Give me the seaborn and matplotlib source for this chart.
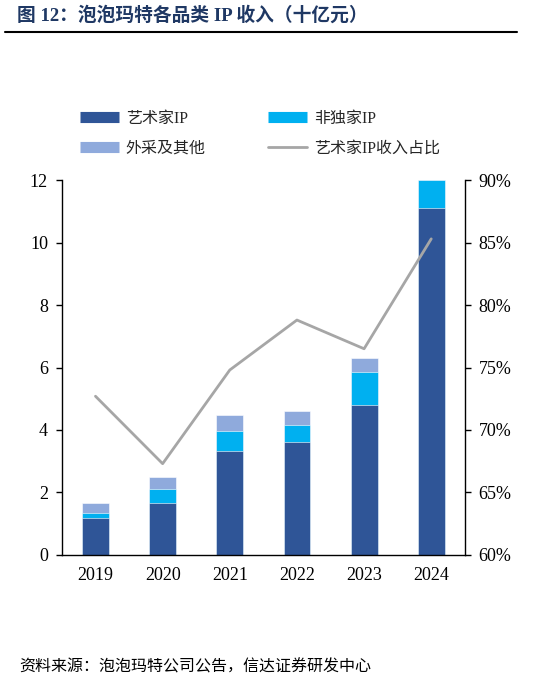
import matplotlib
matplotlib.use("Agg")

import matplotlib.pyplot as plt
import numpy as np
import pandas as pd
import seaborn as sns
from matplotlib.lines import Line2D

years = ["2019", "2020", "2021", "2022", "2023", "2024"]
artist_ip = [1.19, 1.67, 3.34, 3.63, 4.81, 11.11]
non_exclusive_ip = [0.16, 0.44, 0.63, 0.54, 1.04, 0.91]
outsourced_other = [0.31, 0.39, 0.52, 0.44, 0.45, 0.0]
artist_share = [72.7, 67.3, 74.8, 78.8, 76.5, 85.3]

labels = ["艺术家IP", "非独家IP", "外采及其他", "艺术家IP收入占比"]
colors = ["#2F5597", "#00B0F0", "#8FAADC", "#A6A6A6"]

sns.set_style("white")
plt.rcParams["font.family"] = ["Liberation Serif", "Noto Sans CJK SC", "DejaVu Sans"]

df = pd.DataFrame({
    "year": years,
    "artist": artist_ip,
    "non_excl": non_exclusive_ip,
    "other": outsourced_other,
})
df["lvl1"] = df["artist"]
df["lvl2"] = df["artist"] + df["non_excl"]
df["lvl3"] = df["lvl2"] + df["other"]

fig = plt.figure(figsize=(5.43, 6.85), dpi=100)
ax = fig.add_axes([0.114, 0.190, 0.742, 0.547])

# draw stacked bars back-to-front using cumulative totals
for col, color in [("lvl3", colors[2]), ("lvl2", colors[1]), ("lvl1", colors[0])]:
    sns.barplot(data=df, x="year", y=col, color=color, width=0.4,
                saturation=1, edgecolor="white", linewidth=0.4, ax=ax)

ax.set_ylim(0, 12)
ax.set_yticks(range(0, 13, 2))
ax.set_xlim(-0.5, len(years) - 0.5)
ax.set_xlabel("")
ax.set_ylabel("")

ax2 = ax.twinx()
sns.lineplot(x=np.arange(len(years)), y=artist_share, color=colors[3],
             linewidth=2.0, ax=ax2)
ax2.set_ylim(60, 90)
ax2.set_yticks(range(60, 91, 5))
ax2.set_yticklabels([f"{v}%" for v in range(60, 91, 5)])
ax2.set_xlim(-0.5, len(years) - 0.5)

for a in (ax, ax2):
    a.spines["top"].set_visible(False)
    for s in ("left", "right", "bottom"):
        a.spines[s].set_color("black")
        a.spines[s].set_linewidth(1.0)
ax.spines["right"].set_visible(False)
ax2.spines["left"].set_visible(False)
ax2.spines["bottom"].set_visible(False)

ax.tick_params(axis="y", direction="out", length=4, width=1, colors="black",
               labelsize=13, pad=6, left=True)
ax.tick_params(axis="x", length=0, labelsize=13, pad=9, colors="black")
ax2.tick_params(axis="y", direction="out", length=4, width=1, colors="black",
                labelsize=13, pad=6, right=True)

handles = [
    Line2D([0], [0], color=colors[0], linewidth=8, solid_capstyle="butt"),
    Line2D([0], [0], color=colors[2], linewidth=8, solid_capstyle="butt"),
    Line2D([0], [0], color=colors[1], linewidth=8, solid_capstyle="butt"),
    Line2D([0], [0], color=colors[3], linewidth=2),
]
fig.legend(handles, [labels[0], labels[2], labels[1], labels[3]],
           loc="upper left", bbox_to_anchor=(0.148, 0.838), ncol=2,
           frameon=False, fontsize=11.5, handlelength=2.4, handletextpad=0.45,
           columnspacing=3.9, labelspacing=0.85, borderpad=0, borderaxespad=0)

fig.text(0.031, 0.977, "图 12：泡泡玛特各品类 IP 收入（十亿元）", fontsize=13.5,
         fontweight="bold", color="#1F3864", va="center", ha="left")
fig.add_artist(Line2D([0.009, 0.952], [0.953, 0.953], color="black",
                      linewidth=1.5, transform=fig.transFigure))
fig.text(0.035, 0.025, "资料来源：泡泡玛特公司公告，信达证券研发中心",
         fontsize=11.5, style="italic", color="black", va="center", ha="left")

fig.savefig("out.png", dpi=100)
